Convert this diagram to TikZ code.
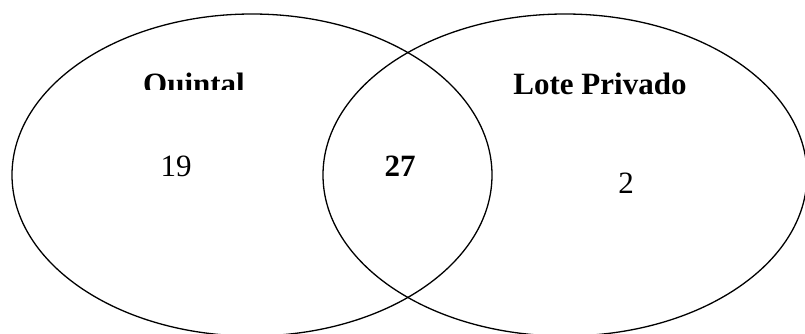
\documentclass[tikz,border=0pt]{standalone}
\usepackage{fontspec}
\setmainfont{Liberation Serif}
\begin{document}
\begin{tikzpicture}[x=1pt,y=-1pt,
  setline/.style={draw=black,line width=1.3pt},
  lbl/.style={font=\fontsize{31}{36}\selectfont\bfseries,anchor=base,inner sep=0pt},
  num/.style={font=\fontsize{31}{36}\selectfont,anchor=base,inner sep=0pt}]
\useasboundingbox (0,0) rectangle (805,333);
\begin{scope}
\clip (0,0) rectangle (805,333);
\draw[setline] (252,175) ellipse [x radius=240, y radius=161];
\draw[setline] (565,175) ellipse [x radius=242, y radius=161];
\end{scope}
\begin{scope}
\clip (100,40) rectangle (300,89);
\node[lbl] (quintal) at (194,94) {Quintal};
\end{scope}
\node[lbl] (lote) at (600,94) {Lote Privado};
\node[num] (n19) at (176,176) {19};
\node[num,font=\fontsize{31}{36}\selectfont\bfseries] (n27) at (400,176) {27};
\node[num] (n2) at (626,193) {2};
\end{tikzpicture}
\end{document}
